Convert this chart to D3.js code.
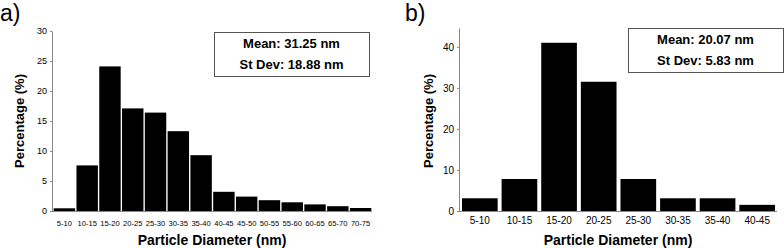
<!DOCTYPE html>
<html>
<head>
<meta charset="utf-8">
<script src="https://cdn.jsdelivr.net/npm/d3@7"></script>
<style>
  body { margin: 0; background: #fff; }
  text { font-family: Arial, "Liberation Sans", sans-serif; }
</style>
</head>
<body>
<svg id="chart" width="784" height="248"></svg>
<script>
// panel a data
var binsA = ["5-10", "10-15", "15-20", "20-25", "25-30", "30-35", "35-40", "40-45", "45-50", "50-55", "55-60", "60-65", "65-70", "70-75"]
var pctA = [0.45, 7.6, 24.1, 17.1, 16.4, 13.3, 9.3, 3.2, 2.4, 1.8, 1.45, 1.1, 0.8, 0.5]
var ticksA = [0, 5, 10, 15, 20, 25, 30]
var statsA = ["Mean: 31.25 nm", "St Dev: 18.88 nm"]

// panel b data
var binsB = ["5-10", "10-15", "15-20", "20-25", "25-30", "30-35", "35-40", "40-45"]
var pctB = [3.1, 7.8, 41.0, 31.5, 7.8, 3.1, 3.1, 1.5]
var ticksB = [0, 10, 20, 30, 40]
var statsB = ["Mean: 20.07 nm", "St Dev: 5.83 nm"]

var svg = d3.select("#chart")
var axisColor = "#888"

function drawPanel(opt) {
    var g = svg.append("g")

    var x = d3.scaleBand()
        .domain(opt.bins)
        .range([opt.x0 + 1, opt.x1])
        .paddingInner(opt.pad)
        .paddingOuter(opt.pad / 2)

    var y = d3.scaleLinear()
        .domain([0, opt.ymax])
        .range([211, opt.ytop])

    // bars
    g.selectAll("rect.bar")
        .data(opt.vals)
        .enter()
        .append("rect")
        .attr("class", "bar")
        .attr("x", (d, i) => x(opt.bins[i]))
        .attr("width", x.bandwidth())
        .attr("y", d => y(d))
        .attr("height", d => y(0) - y(d))
        .attr("fill", "#000")

    // y axis
    var ya = g.append("g")
        .attr("transform", "translate(" + opt.x0 + ",0)")
        .call(d3.axisLeft(y).tickValues(opt.ticks).tickSize(2).tickSizeOuter(0).tickPadding(3))
    ya.select(".domain").attr("stroke", axisColor)
    ya.selectAll(".tick line").attr("stroke", axisColor)
    ya.selectAll("text").attr("font-size", opt.yfs).attr("fill", "#000")

    // bottom line
    g.append("line")
        .attr("x1", opt.x0).attr("x2", opt.x1)
        .attr("y1", 211.5).attr("y2", 211.5)
        .attr("stroke", axisColor)

    // x labels
    g.selectAll("text.xl")
        .data(opt.bins)
        .enter()
        .append("text")
        .attr("class", "xl")
        .attr("x", d => x(d) + x.bandwidth() / 2)
        .attr("y", opt.xly)
        .attr("text-anchor", "middle")
        .attr("font-size", opt.xfs)
        .text(d => d)

    // axis titles
    g.append("text")
        .attr("x", (opt.x0 + opt.x1) / 2)
        .attr("y", 245)
        .attr("text-anchor", "middle")
        .attr("font-size", 14)
        .attr("font-weight", "bold")
        .text("Particle Diameter (nm)")

    g.append("text")
        .attr("transform", "translate(" + opt.ytx + ",121) rotate(-90)")
        .attr("text-anchor", "middle")
        .attr("font-size", 13)
        .attr("font-weight", "bold")
        .text("Percentage (%)")

    // stats box
    var b = opt.box
    g.append("rect")
        .attr("x", b[0] + 0.5).attr("y", b[1] + 0.5)
        .attr("width", b[2]).attr("height", b[3])
        .attr("fill", "#fff")
        .attr("stroke", "#555")
    g.selectAll("text.st")
        .data(opt.stats)
        .enter()
        .append("text")
        .attr("class", "st")
        .attr("x", b[0] + b[2] / 2)
        .attr("y", (d, i) => b[1] + 16 + i * 21)
        .attr("text-anchor", "middle")
        .attr("font-size", 13)
        .attr("font-weight", "bold")
        .text(d => d)

    // panel letter
    g.append("text")
        .attr("x", opt.lx)
        .attr("y", 21)
        .attr("font-size", 23)
        .text(opt.letter)
}

drawPanel({
    bins: binsA, vals: pctA, ticks: ticksA, stats: statsA,
    x0: 52, x1: 372, ytop: 31, ymax: 30, pad: 0.06,
    yfs: 9, xfs: 7.6, xly: 226, ytx: 24,
    box: [214, 32, 155, 44], lx: 0, letter: "a)"
})

drawPanel({
    bins: binsB, vals: pctB, ticks: ticksB, stats: statsB,
    x0: 459, x1: 777, ytop: 28, ymax: 44.6, pad: 0.1,
    yfs: 10, xfs: 10, xly: 224, ytx: 433,
    box: [628, 28, 155, 44], lx: 405, letter: "b)"
})
</script>
</body>
</html>
